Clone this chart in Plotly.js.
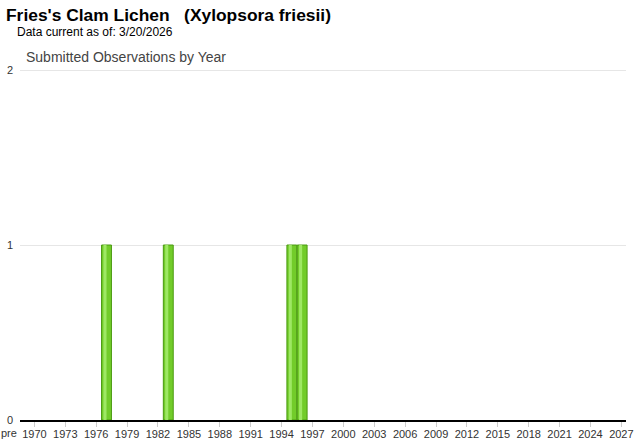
<!DOCTYPE html>
<html>
<head>
<meta charset="utf-8">
<script src="https://cdn.plot.ly/plotly-3.0.1.min.js"></script>
<style>body{margin:0;padding:0;background:#fff;} #chart{width:640px;height:442px;}</style>
</head>
<body>
<div id="chart"></div>
<script>
const years = [1977, 1983, 1995, 1996];
const counts = [1, 1, 1, 1];
const tickYears = [1970,1973,1976,1979,1982,1985,1988,1991,1994,1997,2000,2003,2006,2009,2012,2015,2018,2021,2024,2027];
const tickLabels = tickYears.map(String);
const yTicks = [0, 1, 2];

const traces = [
  {
    type: 'bar', x: years, y: counts, width: 0.96,
    marker: {color: '#72cc2a', line: {color: '#4a9a10', width: 1}},
    hoverinfo: 'x+y'
  },
  {
    type: 'bar', x: years, y: counts, width: 0.3, offset: -0.3,
    marker: {color: '#9ee864', line: {width: 0}},
    hoverinfo: 'skip'
  }
];

const layout = {
  width: 640, height: 442,
  margin: {l: 20, r: 14, t: 69, b: 22, pad: 0},
  paper_bgcolor: '#fff', plot_bgcolor: '#fff',
  barmode: 'overlay',
  showlegend: false,
  font: {family: 'Arial, Liberation Sans, sans-serif', size: 11, color: '#333'},
  xaxis: {
    type: 'linear', range: [1968.6, 2027.45], fixedrange: true,
    tickmode: 'array', tickvals: tickYears, ticktext: tickLabels,
    ticks: 'outside', ticklen: 5, tickcolor: '#ccc', tickwidth: 1,
    ticklabelstandoff: -2,
    showline: true, linecolor: '#000', linewidth: 1.5,
    showgrid: false, zeroline: false,
    tickfont: {size: 11, color: '#333'}
  },
  yaxis: {
    range: [0, 2.006], fixedrange: true,
    tickmode: 'array', tickvals: yTicks, ticktext: yTicks.map(String),
    showgrid: true, gridcolor: '#e6e6e6', gridwidth: 1,
    zeroline: false, showline: false, ticks: '',
    ticklabelstandoff: 6,
    tickfont: {size: 11, color: '#333'}
  },
  annotations: [
    {text: "<b>Fries's Clam Lichen   (Xylopsora friesii)</b>", xref: 'paper', yref: 'paper',
     x: -0.026, y: 1, yshift: 54, xanchor: 'left', yanchor: 'middle', showarrow: false,
     font: {size: 17.4, color: '#000', family: 'Arial, Liberation Sans, sans-serif'}},
    {text: 'Data current as of: 3/20/2026', xref: 'paper', yref: 'paper',
     x: -0.008, y: 1, yshift: 37, xanchor: 'left', yanchor: 'middle', showarrow: false,
     font: {size: 12, color: '#000'}},
    {text: 'Submitted Observations by Year', xref: 'paper', yref: 'paper',
     x: 0.006, y: 1, yshift: 12, xanchor: 'left', yanchor: 'middle', showarrow: false,
     font: {size: 14, color: '#444'}},
    {text: 'pre', xref: 'paper', yref: 'paper', x: -0.018, y: 0, yshift: -13,
     xanchor: 'center', yanchor: 'middle', showarrow: false,
     font: {size: 11, color: '#333'}}
  ]
};

Plotly.newPlot('chart', traces, layout, {displayModeBar: false, staticPlot: true});
</script>
</body>
</html>
